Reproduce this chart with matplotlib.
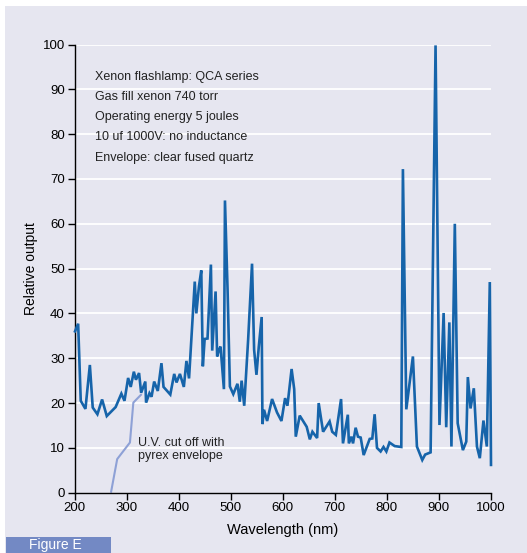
import matplotlib
matplotlib.use("Agg")
import matplotlib.pyplot as plt
from matplotlib.patches import Rectangle

plt.rcParams['font.family'] = ['Liberation Sans', 'DejaVu Sans']

# Xenon flashlamp spectrum (relative output vs wavelength)
wavelength = [201, 207, 212, 221, 229.5, 235, 244, 253, 262, 279, 290, 296, 303, 308,
              314, 318, 324, 328, 336, 337.5, 344, 348, 353, 360, 367, 371, 384, 391.5,
              396, 402.5, 410, 415, 420, 431, 434, 439, 443.5, 446.5, 450, 455.5, 462,
              464.5, 471, 474, 477.5, 480.5, 487, 489, 494, 498.5, 505, 513, 517.5, 521,
              526, 533.5, 541, 545, 549.5, 554, 559.5, 561, 564, 570, 579.5, 589, 597.5,
              604.5, 609, 617, 622, 625, 632.6, 646, 652, 657, 666, 669, 677.5, 690, 695,
              702, 712, 715.7, 725, 727, 732, 735, 740, 744.5, 749.7, 755.4, 767, 772,
              776.5, 781, 788, 793.5, 799, 805, 815, 827.7, 830.8, 837.3, 850, 857.7,
              868, 873.5, 884, 893.5, 901, 909, 914, 920, 924, 930.5, 936, 946, 952.5,
              955.5, 960.7, 967, 973, 978.5, 985.5, 992, 997.7, 1000]
output = [36, 37.7, 20.5, 18.7, 28.5, 19, 17.5, 20.8, 17.1, 19.1, 22.1, 20.5, 25.6, 23.6,
          27, 25.2, 26.7, 22.3, 24.8, 20.1, 22.2, 21.4, 24.8, 22.7, 28.9, 23.6, 21.9, 26.5,
          24.6, 26.5, 23.6, 29.4, 25.5, 47.1, 40, 46, 49.6, 28.2, 34.3, 34.4, 50.9,
          31.7, 44.9, 30.4, 31.9, 32.6, 23.1, 65.2, 45.3, 23.7, 22, 24.3, 20.3, 25,
          19.4, 34.1, 51.1, 31.9, 26.3, 32.6, 39.2, 15.3, 18.5, 16, 20.9, 17.9, 16,
          21.1, 19.4, 27.6, 23.1, 12.5, 17.2, 14.7, 11.9, 13.6, 12.2, 20, 13.6, 15.9, 13.6,
          12.9, 20.9, 11, 17.4, 11, 12.5, 11, 14.5, 12.5, 12.3, 8.4, 12, 12.1,
          17.5, 10, 9.2, 10.2, 9.2, 11.2, 10.4, 10.2, 72.2, 18.6, 30.4, 10.3,
          7.3, 8.5, 9, 99.8, 15.1, 40.1, 14.6, 38, 10.3, 60, 15.5, 9.5, 11.4,
          25.8, 18.8, 23.3, 10.3, 7.7, 16.1, 10.3, 47, 6.2]

# Transmission limit of a pyrex envelope
uv_wavelength = [270, 282, 306.5, 313, 329]
uv_output = [0, 7.5, 11.2, 20.1, 22]

notes = ["Xenon flashlamp: QCA series",
         "Gas fill xenon 740 torr",
         "Operating energy 5 joules",
         "10 uf 1000V: no inductance",
         "Envelope: clear fused quartz"]

x_ticks = [200, 300, 400, 500, 600, 700, 800, 900, 1000]
y_ticks = [0, 10, 20, 30, 40, 50, 60, 70, 80, 90, 100]

W, H = 527, 553
panel = '#e6e6f0'
fig = plt.figure(figsize=(W / 100, H / 100), dpi=100, facecolor='white')

# lavender panel behind the chart
fig.patches.append(Rectangle((5 / W, 0), 1 - 5 / W, (H - 6) / H,
                             transform=fig.transFigure, facecolor=panel,
                             edgecolor='none', zorder=-5))
# caption tab
fig.patches.append(Rectangle((6 / W, 0), 105 / W, 16.5 / H,
                             transform=fig.transFigure, facecolor='#7389c4',
                             edgecolor='none', zorder=1))
fig.text(29 / W, 0.5 / H, "Figure E", color='white', fontsize=10,
         ha='left', va='bottom', zorder=2)

ax = fig.add_axes([74.5 / W, 60.3 / H, (491 - 74.5) / W, (492.7 - 44.5) / H])
ax.set_facecolor(panel)
ax.set_xlim(200, 1000)
ax.set_ylim(0, 100)

for v in y_ticks[1:]:
    ax.axhline(v, color='white', lw=1.3, zorder=1)

ax.plot(uv_wavelength, uv_output, color='#8ea1d6', lw=1.5, zorder=2,
        solid_capstyle='butt')
ax.plot(wavelength, output, color='#1664aa', lw=1.9, zorder=3, clip_on=False,
        solid_joinstyle='miter')

ax.set_xticks(x_ticks)
ax.set_yticks(y_ticks)
ax.tick_params(direction='out', length=5, width=1, colors='black',
               labelsize=9.5, pad=2)
for s in ['top', 'right']:
    ax.spines[s].set_visible(False)
for s in ['left', 'bottom']:
    ax.spines[s].set_linewidth(1)
    ax.spines[s].set_color('black')

ax.set_xlabel("Wavelength (nm)", fontsize=10.5, labelpad=6)
ax.set_ylabel("Relative output", fontsize=10, labelpad=3)

for i, line in enumerate(notes):
    ax.text(95 / W, 1 - (76.7 + i * 20.2) / H, line, transform=fig.transFigure,
            fontsize=9, ha='left', va='center', color='#222222')

ax.text(322, 9.65, "U.V. cut off with\npyrex envelope", fontsize=9,
        ha='left', va='center', color='#222222', linespacing=1.2)

fig.savefig("out.png", dpi=100, facecolor='white')
